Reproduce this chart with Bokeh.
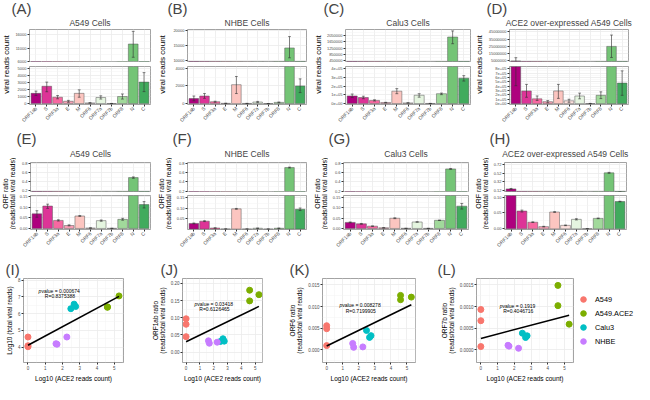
import numpy as np
from math import pi
from bokeh.plotting import figure
from bokeh.models import (FactorRange, Range1d, FixedTicker, ColumnDataSource,
                          CustomJSTickFormatter, Legend, LegendItem, Label, Title)
from bokeh.transform import dodge
from bokeh.layouts import row, column
from bokeh.embed import file_html
from bokeh.resources import INLINE

# ------------------------------------------------------------------ data
genes = ["ORF1ab", "S", "ORF3a", "E", "M", "ORF6", "ORF7a", "ORF7b", "ORF8", "N", "C"]
gene_colors = ["#ae017e", "#dd3497", "#f768a1", "#fa9fb5", "#fcc5c0", "#fde0dd",
               "#e5f5e0", "#f7fcf5", "#a1d99b", "#74c476", "#41ab5d"]

# (A) A549 cells - viral reads count
a549_count_mean = [1450, 2450, 900, 320, 1450, 90, 860, 10, 1000, 12500, 3050]
a549_count_low = [1140, 1680, 680, 180, 900, 60, 640, 5, 640, 7500, 1700]
a549_count_high = [1770, 3050, 1140, 450, 1950, 120, 1100, 15, 1360, 17300, 4400]
a549_count_up_ticks = [6000, 11000, 16000]
a549_count_up_labels = ["6000", "11000", "16000"]
a549_count_up_range = [5900, 18000]
a549_count_lo_ticks = [0, 1000, 2000, 3000, 4000, 5000]
a549_count_lo_labels = ["0", "1000", "2000", "3000", "4000", "5000"]
a549_count_lo_range = [-135, 5270]

# (B) NHBE cells - viral reads count
nhbe_count_mean = [570, 860, 210, 30, 2140, 20, 180, 5, 140, 14200, 2000]
nhbe_count_low = [320, 600, 150, 20, 1140, 10, 110, 2, 100, 11000, 1250]
nhbe_count_high = [860, 1140, 270, 40, 3070, 30, 250, 8, 180, 17900, 2800]
nhbe_count_up_ticks = [10000, 15000, 20000]
nhbe_count_up_labels = ["10000", "15000", "20000"]
nhbe_count_up_range = [9800, 20200]
nhbe_count_lo_ticks = [0, 2000, 4000]
nhbe_count_lo_labels = ["0", "2000", "4000"]
nhbe_count_lo_range = [-100, 4200]

# (C) Calu3 cells - viral reads count
calu3_count_mean = [87000, 69000, 36000, 11000, 142000, 7000, 95000, 1000, 113000, 1950000, 291000]
calu3_count_low = [69000, 55000, 29000, 8000, 113000, 5000, 73000, 500, 102000, 1530000, 258000]
calu3_count_high = [109000, 84000, 43000, 14000, 171000, 9000, 113000, 1500, 120000, 2330000, 320000]
calu3_count_up_ticks = [450000, 850000, 1250000, 1650000, 2050000]
calu3_count_up_labels = ["450000", "850000", "1250000", "1650000", "2050000"]
calu3_count_up_range = [416000, 2420000]
calu3_count_lo_ticks = [0, 100000, 200000, 300000, 400000]
calu3_count_lo_labels = ["0e+00", "1e+05", "2e+05", "3e+05", "4e+05"]
calu3_count_lo_range = [-11000, 425000]

# (D) ACE2 over-expressed A549 cells - viral reads count
ace2_count_mean = [5100000, 290000, 110000, 44000, 290000, 65000, 175000, 3000, 190000, 25000000, 470000]
ace2_count_low = [410000, 145000, 73000, 20000, 120000, 30000, 110000, 1000, 115000, 9800000, 190000]
ace2_count_high = [9500000, 440000, 175000, 70000, 440000, 100000, 240000, 5000, 270000, 40500000, 750000]
ace2_count_up_ticks = [5000000, 15000000, 25000000, 35000000, 45000000]
ace2_count_up_labels = ["5000000", "15000000", "25000000", "35000000", "45000000"]
ace2_count_up_range = [4300000, 48100000]
ace2_count_lo_ticks = [0, 100000, 200000, 300000, 400000, 500000, 600000, 700000, 800000]
ace2_count_lo_labels = ["0e+00", "1e+05", "2e+05", "3e+05", "4e+05", "5e+05", "6e+05", "7e+05", "8e+05"]
ace2_count_lo_range = [-20000, 850000]

# (E) A549 cells - ORF ratio
a549_ratio_mean = [0.069, 0.106, 0.038, 0.014, 0.059, 0.002, 0.037, 0.0005, 0.043, 0.49, 0.113]
a549_ratio_low = [0.053, 0.095, 0.035, 0.012, 0.057, 0.001, 0.034, 0.0002, 0.039, 0.475, 0.097]
a549_ratio_high = [0.084, 0.115, 0.041, 0.017, 0.061, 0.003, 0.040, 0.0008, 0.048, 0.505, 0.127]
a549_ratio_up_ticks = [0.2, 0.4, 0.6, 0.8]
a549_ratio_up_labels = ["0.2", "0.4", "0.6", "0.8"]
a549_ratio_up_range = [0.188, 0.818]
a549_ratio_lo_ticks = [0.0, 0.05, 0.10, 0.15]
a549_ratio_lo_labels = ["0.00", "0.05", "0.10", "0.15"]
a549_ratio_lo_range = [-0.005, 0.156]

# (F) NHBE cells - ORF ratio
nhbe_ratio_mean = [0.027, 0.038, 0.005, 0.0005, 0.097, 0.0003, 0.004, 0.0001, 0.004, 0.71, 0.095]
nhbe_ratio_low = [0.025, 0.036, 0.004, 0.0003, 0.095, 0.0002, 0.003, 0.0, 0.003, 0.70, 0.089]
nhbe_ratio_high = [0.029, 0.040, 0.006, 0.0007, 0.099, 0.0004, 0.005, 0.0002, 0.005, 0.72, 0.101]
nhbe_ratio_up_ticks = [0.2, 0.4, 0.6, 0.8]
nhbe_ratio_up_labels = ["0.2", "0.4", "0.6", "0.8"]
nhbe_ratio_up_range = [0.19, 0.82]
nhbe_ratio_lo_ticks = [0.05, 0.10, 0.15]
nhbe_ratio_lo_labels = ["0.05", "0.10", "0.15"]
nhbe_ratio_lo_range = [-0.002, 0.161]

# (G) Calu3 cells - ORF ratio
calu3_ratio_mean = [0.029, 0.022, 0.011, 0.003, 0.049, 0.0005, 0.031, 0.0003, 0.039, 0.68, 0.107]
calu3_ratio_low = [0.027, 0.020, 0.010, 0.002, 0.047, 0.0003, 0.030, 0.0002, 0.038, 0.67, 0.093]
calu3_ratio_high = [0.031, 0.024, 0.012, 0.004, 0.051, 0.0007, 0.032, 0.0004, 0.040, 0.69, 0.120]
calu3_ratio_up_ticks = [0.2, 0.4, 0.6, 0.8]
calu3_ratio_up_labels = ["0.2", "0.4", "0.6", "0.8"]
calu3_ratio_up_range = [0.19, 0.82]
calu3_ratio_lo_ticks = [0.0, 0.05, 0.10, 0.15]
calu3_ratio_lo_labels = ["0.00", "0.05", "0.10", "0.15"]
calu3_ratio_lo_range = [-0.005, 0.158]

# (H) ACE2 over-expressed A549 cells - ORF ratio
ace2_ratio_mean = [0.155, 0.056, 0.021, 0.007, 0.053, 0.011, 0.030, 0.0005, 0.033, 0.526, 0.086]
ace2_ratio_low = [0.145, 0.053, 0.020, 0.006, 0.052, 0.010, 0.028, 0.0003, 0.032, 0.515, 0.085]
ace2_ratio_high = [0.165, 0.059, 0.022, 0.008, 0.054, 0.012, 0.032, 0.0007, 0.034, 0.537, 0.087]
ace2_ratio_up_ticks = [0.12, 0.32, 0.52, 0.72]
ace2_ratio_up_labels = ["0.12", "0.32", "0.52", "0.72"]
ace2_ratio_up_range = [0.095, 0.765]
ace2_ratio_lo_ticks = [0.0, 0.05, 0.10]
ace2_ratio_lo_labels = ["0.00", "0.05", "0.10"]
ace2_ratio_lo_range = [-0.002, 0.105]

# (I)-(L) scatter: Log10(ACE2 reads count) per replicate
groups = ["A549", "A549.ACE2", "Calu3", "NHBE"]
group_colors = ["#F8766D", "#7CAE00", "#00BFC4", "#C77CFF"]
ace2_log10 = {"A549": [0.0, 0.0, 0.0], "A549.ACE2": [4.6, 4.6, 5.27],
              "Calu3": [2.48, 2.67, 2.76], "NHBE": [1.62, 1.68, 2.25]}
ace2_x_ticks = [0, 1, 2, 3, 4, 5]
ace2_x_labels = ["0", "1", "2", "3", "4", "5"]
ace2_x_range = [-0.26, 5.53]

total_log10 = {"A549": [4.60, 4.08, 4.02], "A549.ACE2": [6.40, 6.37, 7.05],
               "Calu3": [6.29, 6.56, 6.42], "NHBE": [4.20, 4.17, 4.60]}
total_ticks = [4, 5, 6, 7, 8]
total_labels = ["4", "5", "6", "7", "8"]
total_range = [3.08, 8.09]
total_stats = ["0.000674", "R=0.8375388"]

orf1ab_ratio = {"A549": [0.097, 0.081, 0.045], "A549.ACE2": [0.180, 0.149, 0.167],
                "Calu3": [0.031, 0.039, 0.032], "NHBE": [0.033, 0.026, 0.029]}
orf1ab_ticks = [0.0, 0.05, 0.10, 0.15, 0.20]
orf1ab_labels = ["0.00", "0.05", "0.10", "0.15", "0.20"]
orf1ab_range = [-0.030, 0.214]
orf1ab_stats = ["0.03418", "R=0.6126465"]

orf6_ratio = {"A549": [0.0056, 0.0049, 0.0010], "A549.ACE2": [0.0126, 0.0116, 0.0122],
              "Calu3": [0.0045, 0.0029, 0.0033], "NHBE": [0.0015, 0.0006, 0.0007]}
orf6_ticks = [0.0, 0.005, 0.010, 0.015]
orf6_labels = ["0.000", "0.005", "0.010", "0.015"]
orf6_range = [-0.0029, 0.0165]
orf6_stats = ["0.008278", "R=0.7199905"]

orf7b_ratio = {"A549": [0.00093, 0.00067, 0.00007], "A549.ACE2": [0.00149, 0.00102, 0.00059],
               "Calu3": [0.00038, 0.00028, 0.00032], "NHBE": [0.00010, 0.00008, 0.00003]}
orf7b_ticks = [0.0, 0.0005, 0.0010, 0.0015]
orf7b_labels = ["0.0000", "0.0005", "0.0010", "0.0015"]
orf7b_range = [-0.0003, 0.00165]
orf7b_stats = ["0.1919", "R=0.4046716"]

# ------------------------------------------------------------------ style
FONT = "Liberation Sans"
TICK_TXT = "#4d4d4d"
TICK_LINE = "#333333"
GRID = "#ebebeb"
MINOR = "#f3f3f3"
BORDER = "#8c8c8c"

CHAR_EM = {"p": 0.556, " ": 0.278, "v": 0.5, "a": 0.556, "l": 0.222, "u": 0.556,
           "e": 0.556, "=": 0.584, ".": 0.278, "R": 0.722}


def text_em(s):
    return sum(CHAR_EM.get(c, 0.556) for c in s)


def fmt(ticks, labels):
    return CustomJSTickFormatter(args=dict(tv=list(ticks), tl=list(labels)), code="""
        for (let i = 0; i < tv.length; i++) {
            if (Math.abs(tv[i] - tick) <= 1e-9 * Math.max(1, Math.abs(tv[i]))) return tl[i];
        }
        return "";
    """)


def minors(ticks):
    step = ticks[1] - ticks[0]
    return [t + step / 2 for t in [ticks[0] - step] + list(ticks)]


def blank(w, h):
    p = figure(width=w, height=h, x_range=Range1d(0, w), y_range=Range1d(0, h),
               toolbar_location=None, output_backend="svg",
               x_axis_location=None, y_axis_location=None, min_border=0,
               outline_line_color=None)
    p.grid.visible = False
    return p


def style_y(p, ticks, labels, size):
    ax = p.yaxis[0]
    ax.ticker = FixedTicker(ticks=list(ticks), minor_ticks=minors(ticks))
    ax.formatter = fmt(ticks, labels)
    ax.major_label_text_font = FONT
    ax.major_label_text_font_size = size
    ax.major_label_text_color = TICK_TXT
    ax.major_label_standoff = 1
    ax.major_tick_out = 2
    ax.major_tick_in = 0
    ax.minor_tick_out = 0
    ax.minor_tick_in = 0
    ax.major_tick_line_color = TICK_LINE
    ax.axis_line_color = None
    p.ygrid.grid_line_color = GRID
    p.ygrid.grid_line_width = 0.8
    p.ygrid.minor_grid_line_color = MINOR
    p.ygrid.minor_grid_line_width = 0.5


# head = space above the upper frame; up/lo = (height, top border, bottom border)
ROW1 = dict(head=24, tstand=3, lstand=-5, up=(63, 24, 2), lo=(67, 3, 26), yfont="8px")
ROW2 = dict(head=27, tstand=7, lstand=-6, up=(63, 27, 2), lo=(65, 2, 29), yfont="7px")


def bar_panel(letter, title, ylab, mean, low, high, up_t, up_l, up_r, lo_t, lo_l, lo_r, g, rg):
    hy = rg["up"][0] + rg["lo"][0]
    ylf = blank(g["lw"], hy)
    cy = (rg["lo"][2] + hy - rg["head"]) / 2
    ylf.add_layout(Label(x=g["lw"] * 0.5, y=cy, text=ylab, angle=pi / 2, text_align="center",
                         text_baseline="middle", text_font=FONT, text_font_size=rg["yfont"],
                         text_color="black", text_line_height=1.0))

    src = ColumnDataSource(dict(gene=genes, mean=mean, lo=low, hi=high, color=gene_colors))
    xr = FactorRange(factors=genes, range_padding=0.1, range_padding_units="absolute")
    figs = []
    for key, ticks, labels, yr in (("up", up_t, up_l, up_r), ("lo", lo_t, lo_l, lo_r)):
        h, bt, bb = rg[key]
        p = figure(width=g["w"] - g["lw"], height=h, x_range=xr, y_range=Range1d(*yr),
                   toolbar_location=None, output_backend="svg",
                   x_axis_location="below" if key == "lo" else None,
                   min_border_left=g["bl"], min_border_right=g["br"],
                   min_border_top=bt, min_border_bottom=bb,
                   outline_line_color=BORDER, outline_line_width=0.8)
        if key == "up":
            # outer line: panel letter; inner line (next to the frame): panel title
            p.title.text = letter
            p.title.text_font = FONT
            p.title.text_font_size = "15px"
            p.title.text_font_style = "normal"
            p.title.align = "left"
            p.title.offset = g["lx"] - g["bl"]
            p.title.standoff = rg["lstand"]
            p.add_layout(Title(text=title, text_font=FONT, text_font_size="8.5px",
                               text_font_style="normal", align="center",
                               standoff=rg["tstand"]), "above")
        style_y(p, ticks, labels, "4px")
        p.xgrid.grid_line_color = GRID
        p.xgrid.grid_line_width = 0.8
        if key == "lo":
            ax = p.xaxis[0]
            ax.major_label_orientation = pi / 4
            ax.major_label_text_font = FONT
            ax.major_label_text_font_size = "5px"
            ax.major_label_text_color = TICK_TXT
            ax.major_label_standoff = 1
            ax.major_tick_out = 2
            ax.major_tick_in = 0
            ax.major_tick_line_color = TICK_LINE
            ax.axis_line_color = None
        p.vbar(x="gene", top="mean", bottom=0, width=0.9, fill_color="color",
               line_color="#555555", line_width=0.5, source=src)
        p.segment(x0="gene", y0="lo", x1="gene", y1="hi", line_color=TICK_LINE,
                  line_width=0.6, source=src)
        for end in ("lo", "hi"):
            p.segment(x0=dodge("gene", -0.13, range=xr), y0=end,
                      x1=dodge("gene", 0.13, range=xr), y1=end,
                      line_color=TICK_LINE, line_width=0.6, source=src)
        figs.append(p)
    return row(ylf, column(*figs))


def scatter_panel(letter, ylab, yvals, yticks, ylabels, yrange, stats, ann, g):
    p = figure(width=g["w"], height=126, x_range=Range1d(*ace2_x_range), y_range=Range1d(*yrange),
               toolbar_location=None, output_backend="svg",
               min_border_left=g["bl"], min_border_right=g["br"],
               min_border_top=19, min_border_bottom=20,
               outline_line_color=BORDER, outline_line_width=0.8)
    p.title.text = letter
    p.title.text_font = FONT
    p.title.text_font_size = "15px"
    p.title.text_font_style = "normal"
    p.title.align = "left"
    p.title.offset = g["lx"] - g["bl"]
    p.title.standoff = 1
    style_y(p, yticks, ylabels, "4.5px")
    ax = p.xaxis[0]
    ax.ticker = FixedTicker(ticks=ace2_x_ticks, minor_ticks=minors(ace2_x_ticks))
    ax.formatter = fmt(ace2_x_ticks, ace2_x_labels)
    ax.major_label_text_font = FONT
    ax.major_label_text_font_size = "4.5px"
    ax.major_label_text_color = TICK_TXT
    ax.major_label_standoff = 1
    ax.major_tick_out = 2
    ax.major_tick_in = 0
    ax.minor_tick_out = 0
    ax.major_tick_line_color = TICK_LINE
    ax.axis_line_color = None
    p.xgrid.grid_line_color = GRID
    p.xgrid.grid_line_width = 0.8
    p.xgrid.minor_grid_line_color = MINOR
    p.xgrid.minor_grid_line_width = 0.5
    for a, lab in ((p.xaxis[0], "Log10 (ACE2 reads count)"), (p.yaxis[0], ylab)):
        a.axis_label = lab
        a.axis_label_text_font = FONT
        a.axis_label_text_font_size = "6.5px"
        a.axis_label_text_font_style = "normal"
        a.axis_label_text_color = "black"
        a.axis_label_standoff = 2
        a.axis_label_text_line_height = 1.0

    xs_all, ys_all = [], []
    for grp, col in zip(groups, group_colors):
        xv, yv = ace2_log10[grp], yvals[grp]
        p.scatter(x=xv, y=yv, size=6, fill_color=col, line_color=col)
        xs_all += xv
        ys_all += yv
    slope, icpt = np.polyfit(xs_all, ys_all, 1)
    xl = [min(xs_all), max(xs_all)]
    p.line(x=xl, y=[icpt + slope * x for x in xl], line_color="black", line_width=1.6)

    cx, cy1, cy2 = ann
    fs = 5
    rest = " value = " + stats[0]
    W = (text_em("p") + text_em(rest)) * fs
    common = dict(text_font=FONT, text_font_size="%gpx" % fs, text_color="black",
                  text_baseline="middle", text_align="left")
    p.add_layout(Label(x=cx, y=cy1, x_offset=-W / 2, text="p", text_font_style="italic", **common))
    p.add_layout(Label(x=cx, y=cy1, x_offset=-W / 2 + text_em("p") * fs, text=rest, **common))
    common["text_align"] = "center"
    p.add_layout(Label(x=cx, y=cy2, text=stats[1], **common))
    return p


def legend_panel(w, h):
    p = blank(w, h)
    items = []
    for grp, col in zip(groups, group_colors):
        # key-only renderer: NaN coordinates are never drawn, only the legend key is
        r = p.scatter(x=[float("nan")], y=[float("nan")], size=8, fill_color=col, line_color=col)
        items.append(LegendItem(label=grp, renderers=[r]))
    lg = Legend(items=items, location="center_left", border_line_color=None,
                background_fill_alpha=0, label_text_font=FONT, label_text_font_size="7.3px",
                label_text_color="black", glyph_width=18, glyph_height=14, label_height=14,
                spacing=0, padding=0, margin=0, label_standoff=3)
    p.add_layout(lg, "center")
    return p


# ------------------------------------------------------------------ layout
row1_cells = [dict(w=156, lw=11, bl=18, br=6, lx=0), dict(w=156, lw=11, bl=20, br=6, lx=0),
              dict(w=161, lw=11, bl=22, br=3, lx=0), dict(w=161, lw=11, bl=25, br=6, lx=2)]
row2_cells = [dict(w=156, lw=16, bl=14, br=6, lx=0), dict(w=156, lw=16, bl=15, br=6, lx=0),
              dict(w=161, lw=16, bl=15, br=5, lx=0), dict(w=161, lw=16, bl=15, br=8, lx=0)]
row3_cells = [dict(w=148, bl=23, br=25, lx=5), dict(w=138, bl=28, br=24, lx=6),
              dict(w=150, bl=34, br=21, lx=1), dict(w=138, bl=40, br=1, lx=1)]

YC = "viral reads count"
YR = "ORF ratio\n(reads/total viral reads)"

r1 = row(
    bar_panel("(A)", "A549 Cells", YC, a549_count_mean, a549_count_low, a549_count_high,
              a549_count_up_ticks, a549_count_up_labels, a549_count_up_range,
              a549_count_lo_ticks, a549_count_lo_labels, a549_count_lo_range, row1_cells[0], ROW1),
    bar_panel("(B)", "NHBE Cells", YC, nhbe_count_mean, nhbe_count_low, nhbe_count_high,
              nhbe_count_up_ticks, nhbe_count_up_labels, nhbe_count_up_range,
              nhbe_count_lo_ticks, nhbe_count_lo_labels, nhbe_count_lo_range, row1_cells[1], ROW1),
    bar_panel("(C)", "Calu3 Cells", YC, calu3_count_mean, calu3_count_low, calu3_count_high,
              calu3_count_up_ticks, calu3_count_up_labels, calu3_count_up_range,
              calu3_count_lo_ticks, calu3_count_lo_labels, calu3_count_lo_range, row1_cells[2], ROW1),
    bar_panel("(D)", "ACE2 over-expressed A549 Cells", YC, ace2_count_mean, ace2_count_low,
              ace2_count_high, ace2_count_up_ticks, ace2_count_up_labels, ace2_count_up_range,
              ace2_count_lo_ticks, ace2_count_lo_labels, ace2_count_lo_range, row1_cells[3], ROW1),
)
r2 = row(
    bar_panel("(E)", "A549 Cells", YR, a549_ratio_mean, a549_ratio_low, a549_ratio_high,
              a549_ratio_up_ticks, a549_ratio_up_labels, a549_ratio_up_range,
              a549_ratio_lo_ticks, a549_ratio_lo_labels, a549_ratio_lo_range, row2_cells[0], ROW2),
    bar_panel("(F)", "NHBE Cells", YR, nhbe_ratio_mean, nhbe_ratio_low, nhbe_ratio_high,
              nhbe_ratio_up_ticks, nhbe_ratio_up_labels, nhbe_ratio_up_range,
              nhbe_ratio_lo_ticks, nhbe_ratio_lo_labels, nhbe_ratio_lo_range, row2_cells[1], ROW2),
    bar_panel("(G)", "Calu3 Cells", YR, calu3_ratio_mean, calu3_ratio_low, calu3_ratio_high,
              calu3_ratio_up_ticks, calu3_ratio_up_labels, calu3_ratio_up_range,
              calu3_ratio_lo_ticks, calu3_ratio_lo_labels, calu3_ratio_lo_range, row2_cells[2], ROW2),
    bar_panel("(H)", "ACE2 over-expressed A549 Cells", YR, ace2_ratio_mean, ace2_ratio_low,
              ace2_ratio_high, ace2_ratio_up_ticks, ace2_ratio_up_labels, ace2_ratio_up_range,
              ace2_ratio_lo_ticks, ace2_ratio_lo_labels, ace2_ratio_lo_range, row2_cells[3], ROW2),
)
r3 = row(
    scatter_panel("(I)", "Log10 (total viral reads)", total_log10, total_ticks, total_labels,
                  total_range, total_stats, (1.85, 7.33, 7.05), row3_cells[0]),
    scatter_panel("(J)", "ORF1ab ratio\n(reads/total viral reads)", orf1ab_ratio, orf1ab_ticks,
                  orf1ab_labels, orf1ab_range, orf1ab_stats, (2.05, 0.140, 0.1245), row3_cells[1]),
    scatter_panel("(K)", "ORF6 ratio\n(reads/total viral reads)", orf6_ratio, orf6_ticks,
                  orf6_labels, orf6_range, orf6_stats, (2.12, 0.0103, 0.0091), row3_cells[2]),
    scatter_panel("(L)", "ORF7b ratio\n(reads/total viral reads)", orf7b_ratio, orf7b_ticks,
                  orf7b_labels, orf7b_range, orf7b_stats, (2.23, 0.00101, 0.000896), row3_cells[3]),
    legend_panel(60, 126),
)

layout = column(r1, r2, r3)
open("out.html", "w").write(file_html(layout, INLINE))
